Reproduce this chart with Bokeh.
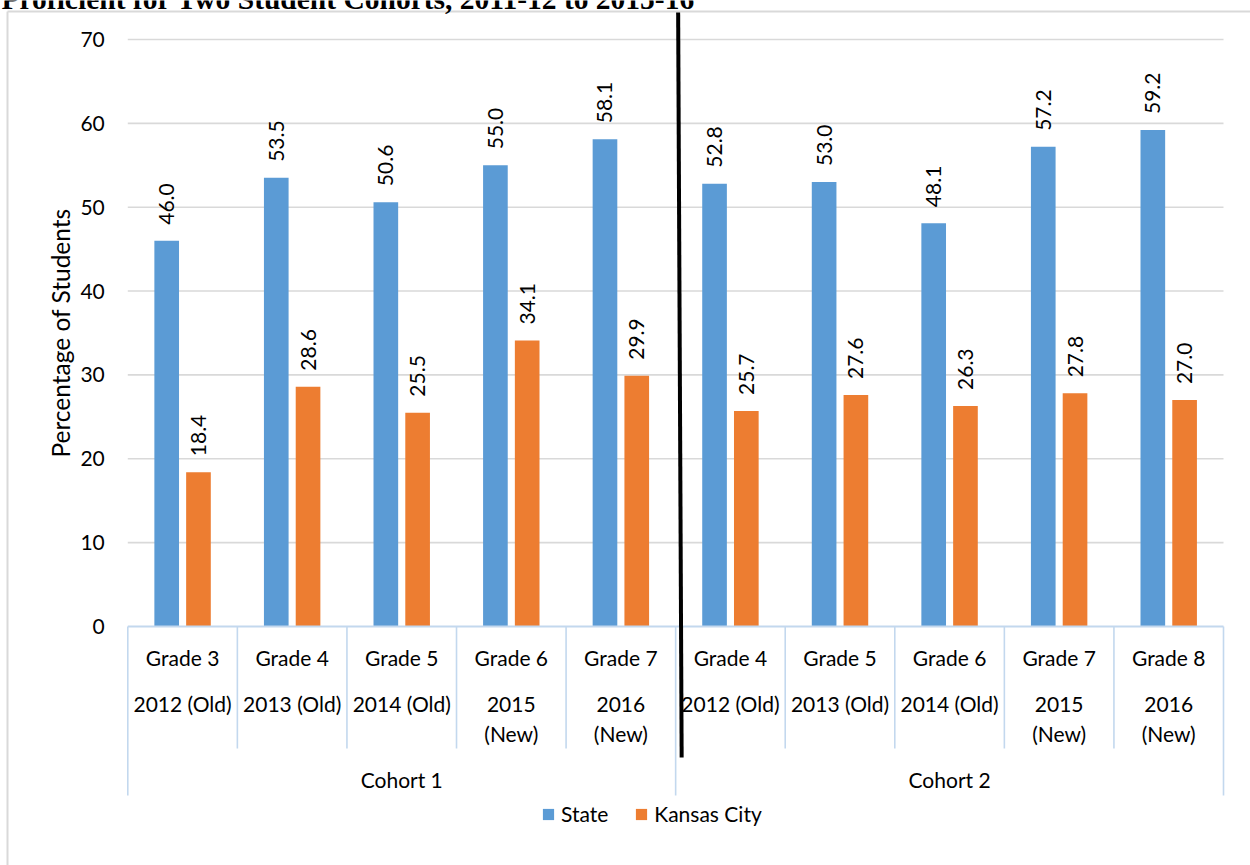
import math

from bokeh.core.properties import value
from bokeh.embed import file_html
from bokeh.models import ColumnDataSource, Legend, LegendItem, Range1d
from bokeh.plotting import figure
from bokeh.resources import INLINE

# ---- data -------------------------------------------------------------
title_text = "Proficient for Two Student Cohorts, 2011-12 to 2015-16"
grades = ["Grade 3", "Grade 4", "Grade 5", "Grade 6", "Grade 7",
          "Grade 4", "Grade 5", "Grade 6", "Grade 7", "Grade 8"]
years = ["2012 (Old)", "2013 (Old)", "2014 (Old)", "2015\n(New)", "2016\n(New)",
         "2012 (Old)", "2013 (Old)", "2014 (Old)", "2015\n(New)", "2016\n(New)"]
cohorts = ["Cohort 1", "Cohort 2"]
cohort_size = [5, 5]
state = [46.0, 53.5, 50.6, 55.0, 58.1, 52.8, 53.0, 48.1, 57.2, 59.2]
kansas_city = [18.4, 28.6, 25.5, 34.1, 29.9, 25.7, 27.6, 26.3, 27.8, 27.0]
y_ticks = [0, 10, 20, 30, 40, 50, 60, 70]
y_label = "Percentage of Students"
series_names = ["State", "Kansas City"]

# ---- page geometry ----------------------------------------------------
W, H = 1250, 865
X0_PX, X_UNIT_PX = 127.3, 109.57   # pixel of x=0 and pixels per category
Y0_PX, Y_UNIT_PX = 626.0, 8.386    # pixel of y=0 and pixels per percent


def dx(px):
    return (px - X0_PX) / X_UNIT_PX


def dy(py):
    return (Y0_PX - py) / Y_UNIT_PX


FONT = value("Lato")
BLUE, ORANGE = "#5B9BD5", "#ED7D31"
GRID, SEP = "#d9d9d9", "#c3d8ee"

n = len(grades)
centers = [i + 0.5 for i in range(n)]
BAR_W, OFFSET = 0.225, 0.145

src = ColumnDataSource(dict(
    x=centers,
    xs=[c - OFFSET for c in centers],
    xk=[c + OFFSET for c in centers],
    state=state,
    kc=kansas_city,
    state_lbl=[f"{v:.1f}" for v in state],
    kc_lbl=[f"{v:.1f}" for v in kansas_city],
    grade=grades,
    year=years,
))

p = figure(width=W, height=H, output_backend="svg", toolbar_location=None,
           x_axis_type=None, y_axis_type=None, min_border=0,
           x_range=Range1d(dx(0), dx(W)), y_range=Range1d(dy(H), dy(0)),
           outline_line_color=None, background_fill_color="white",
           border_fill_color="white")

# outer chart border (top and left edges)
p.segment(x0=[dx(7), dx(7)], y0=[dy(11), dy(11)], x1=[dx(W + 5), dx(7)],
          y1=[dy(11), dy(H + 5)], line_color=GRID, line_width=2)

# report heading running off the top of the page
p.text(x=[dx(1)], y=[dy(2)], text=[title_text], y_offset=-4,
       text_font=value("Liberation Serif"), text_font_style="bold",
       text_font_size="29.5px", text_align="left",
       text_baseline="alphabetic", text_color="black")

# horizontal gridlines
grid_y = [t for t in y_ticks if t != 0]
p.segment(x0=[0] * len(grid_y), x1=[n] * len(grid_y), y0=grid_y, y1=grid_y,
          line_color=GRID, line_width=1.6)

# bars
r_state = p.vbar(x="xs", top="state", width=BAR_W, source=src,
                 fill_color=BLUE, line_color=None)
r_kc = p.vbar(x="xk", top="kc", width=BAR_W, source=src,
              fill_color=ORANGE, line_color=None)

# value labels (rotated)
p.text(x="xs", y="state", text="state_lbl", source=src, angle=math.pi / 2,
       y_offset=-16, text_align="left", text_baseline="middle",
       text_font=FONT, text_font_size="21px", text_color="black")
p.text(x="xk", y="kc", text="kc_lbl", source=src, angle=math.pi / 2,
       y_offset=-16, text_align="left", text_baseline="middle",
       text_font=FONT, text_font_size="21px", text_color="black")

# category axis line and separators
p.segment(x0=[0], x1=[n], y0=[0], y1=[0], line_color=SEP, line_width=2)
bounds = [0]
for s in cohort_size:
    bounds.append(bounds[-1] + s)
inner = [i for i in range(1, n) if i not in bounds]
p.segment(x0=inner, x1=inner, y0=[0] * len(inner), y1=[dy(748)] * len(inner),
          line_color=SEP, line_width=1.6)
p.segment(x0=bounds, x1=bounds, y0=[0] * len(bounds), y1=[dy(795)] * len(bounds),
          line_color=SEP, line_width=1.6)

# category labels: grade, test year, cohort
p.text(x="x", y=0, text="grade", source=src, y_offset=31, text_align="center",
       text_baseline="middle", text_font=FONT, text_font_size="21px", text_color="black")
p.text(x="x", y=0, text="year", source=src, y_offset=64, text_align="center",
       text_baseline="top", text_line_height=1.2, text_font=FONT,
       text_font_size="21px", text_color="black")
cohort_x = [(bounds[i] + bounds[i + 1]) / 2 for i in range(len(cohorts))]
p.text(x=cohort_x, y=[0] * len(cohorts), text=cohorts, y_offset=153,
       text_align="center", text_baseline="middle", text_font=FONT,
       text_font_size="21px", text_color="black")

# value axis labels and title
p.text(x=[0] * len(y_ticks), y=y_ticks, text=[str(t) for t in y_ticks],
       x_offset=-23, text_align="right", text_baseline="middle",
       text_font=FONT, text_font_size="21px", text_color="black")
p.text(x=[0], y=[(y_ticks[0] + y_ticks[-1]) / 2], text=[y_label], x_offset=-67,
       angle=math.pi / 2, text_align="center", text_baseline="middle",
       text_font=FONT, text_font_size="24.5px", text_color="black")

# divider between the two cohorts
p.segment(x0=[bounds[1] + dx(678) - dx(675.5)], y0=[dy(12)],
          x1=[bounds[1] + dx(681.5) - dx(675.5)], y1=[dy(757)],
          line_color="black", line_width=4)

legend = Legend(items=[LegendItem(label=series_names[0], renderers=[r_state]),
                       LegendItem(label=series_names[1], renderers=[r_kc])],
                orientation="horizontal", location=(541, H - 826),
                padding=0, margin=0, spacing=26, label_standoff=6,
                glyph_width=14, glyph_height=14, label_height=14,
                label_text_font="Lato", label_text_font_size="21px",
                label_text_color="black", border_line_color=None,
                background_fill_alpha=0)
p.add_layout(legend, "center")

open("out.html", "w").write(file_html(p, INLINE))
